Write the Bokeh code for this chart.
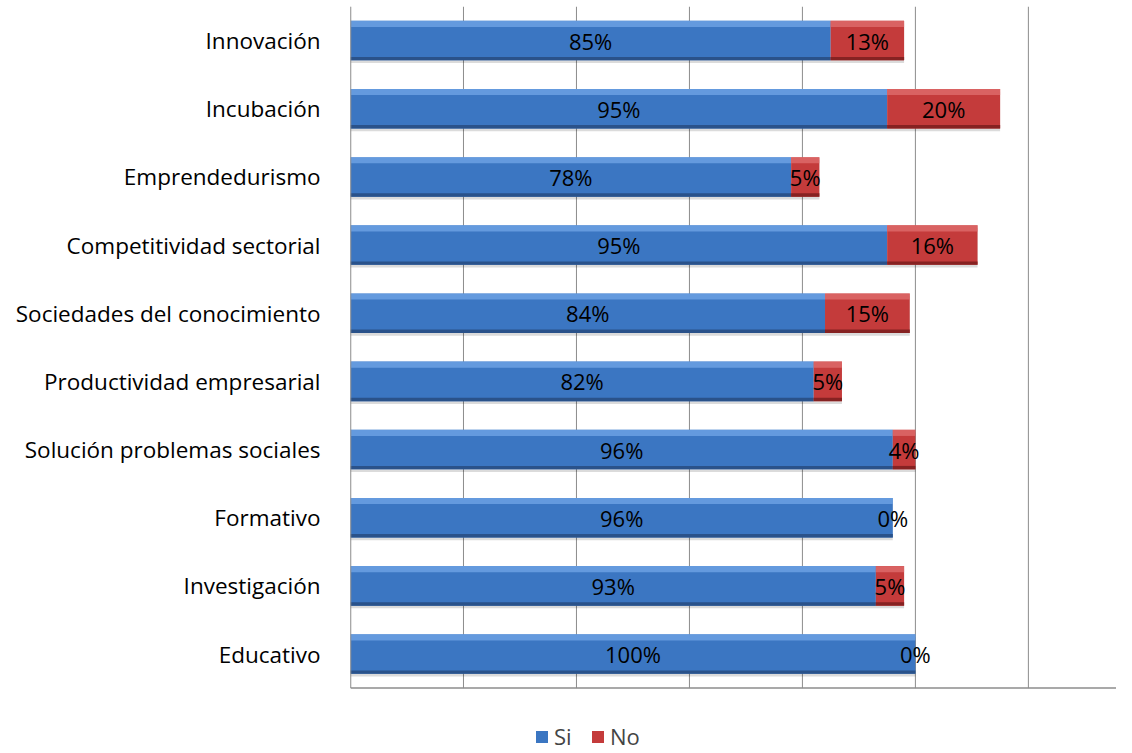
from bokeh.plotting import figure
from bokeh.models import ColumnDataSource, FixedTicker, Legend, LegendItem, Range1d
from bokeh.core.properties import value
from bokeh.embed import file_html
from bokeh.resources import INLINE

categories = ["Innovación", "Incubación", "Emprendedurismo", "Competitividad sectorial",
              "Sociedades del conocimiento", "Productividad empresarial",
              "Solución problemas sociales", "Formativo", "Investigación", "Educativo"]
si = [85, 95, 78, 95, 84, 82, 96, 96, 93, 100]
no = [13, 20, 5, 16, 15, 5, 4, 0, 5, 0]
series_names = ["Si", "No"]
grid_ticks = [0, 0.2, 0.4, 0.6, 0.8, 1.0, 1.2]

FONT = "Open Sans"
BLUE = "#3b76c2"; BLUE_L = "#76a9ea"; BLUE_D = "#2a528a"
RED = "#c43b3b"; RED_L = "#e27474"; RED_D = "#862222"
GRID = "#8c8c8c"

n = len(categories)
pos = [n - 1 - i for i in range(n)]  # first category on top
si_f = [v / 100 for v in si]
no_f = [v / 100 for v in no]
src = ColumnDataSource(dict(
    y=pos,
    si_end=si_f,
    no_end=[a + b for a, b in zip(si_f, no_f)],
    si_mid=[a / 2 for a in si_f],
    no_mid=[a + b / 2 for a, b in zip(si_f, no_f)],
    si_lbl=[f"{v}%" for v in si],
    no_lbl=[f"{v}%" for v in no],
    zero=[0] * n,
))

H = 0.58
src.data["y_hi"] = [y + H / 2 - 0.045 for y in pos]
src.data["y_lo"] = [y - H / 2 + 0.025 for y in pos]
src.data["y_sh"] = [y - 0.04 for y in pos]

X_END = 1.356
cat_lo, cat_hi = -0.5, n - 0.5
p = figure(width=1116, height=751, output_backend="svg", toolbar_location=None,
           x_range=Range1d(0, X_END), y_range=Range1d(cat_lo - 0.93, cat_hi),
           min_border_left=350, min_border_top=6, min_border_right=0, min_border_bottom=0)
p.outline_line_color = None
p.background_fill_color = "white"

# grid lines and axis lines limited to category area
p.segment(x0=grid_ticks, x1=grid_ticks, y0=[cat_lo] * len(grid_ticks), y1=[cat_hi] * len(grid_ticks),
          line_color=GRID, line_width=1)
p.segment(x0=[0], x1=[X_END], y0=[cat_lo], y1=[cat_lo], line_color=GRID, line_width=1.5)

# shadow
p.hbar(y="y_sh", left="zero", right="no_end", height=H, source=src,
       fill_color="#000000", fill_alpha=0.14, line_color=None)
# Si
r_si = p.hbar(y="y", left="zero", right="si_end", height=H, source=src,
              fill_color=BLUE, line_color=None)
p.hbar(y="y_hi", left="zero", right="si_end", height=0.09, source=src,
       fill_color=BLUE_L, fill_alpha=0.7, line_color=None)
p.hbar(y="y_lo", left="zero", right="si_end", height=0.05, source=src,
       fill_color=BLUE_D, line_color=None)
# No
r_no = p.hbar(y="y", left="si_end", right="no_end", height=H, source=src,
              fill_color=RED, line_color=None)
p.hbar(y="y_hi", left="si_end", right="no_end", height=0.09, source=src,
       fill_color=RED_L, fill_alpha=0.7, line_color=None)
p.hbar(y="y_lo", left="si_end", right="no_end", height=0.05, source=src,
       fill_color=RED_D, line_color=None)

p.text(x="si_mid", y="y", text="si_lbl", source=src, text_align="center",
       text_baseline="middle", text_font=value(FONT), text_font_size="22px", text_color="black")
p.text(x="no_mid", y="y", text="no_lbl", source=src, text_align="center",
       text_baseline="middle", text_font=value(FONT), text_font_size="22px", text_color="black")

p.xaxis.visible = False
p.xgrid.grid_line_color = None
p.ygrid.grid_line_color = None

p.yaxis.ticker = FixedTicker(ticks=pos)
p.yaxis.major_label_overrides = {y: c for y, c in zip(pos, categories)}
p.yaxis.axis_line_color = None
p.yaxis.major_tick_line_color = None
p.yaxis.minor_tick_line_color = None
p.yaxis.major_label_standoff = 24
p.yaxis.major_label_text_font = FONT
p.yaxis.major_label_text_font_size = "22.5px"
p.yaxis.major_label_text_color = "black"
# left axis line over the category area
p.segment(x0=[0], x1=[0], y0=[cat_lo], y1=[cat_hi], line_color=GRID, line_width=1.5)

legend = Legend(items=[LegendItem(label=series_names[0], renderers=[r_si]),
                       LegendItem(label=series_names[1], renderers=[r_no])],
                orientation="horizontal", location=(184, 0),
                label_text_font=FONT, label_text_font_size="22px",
                glyph_width=15, glyph_height=15, label_standoff=5, spacing=16,
                border_line_color=None, background_fill_alpha=0, padding=0, margin=0)
p.add_layout(legend, "center")

open("out.html", "w").write(file_html(p, INLINE))
